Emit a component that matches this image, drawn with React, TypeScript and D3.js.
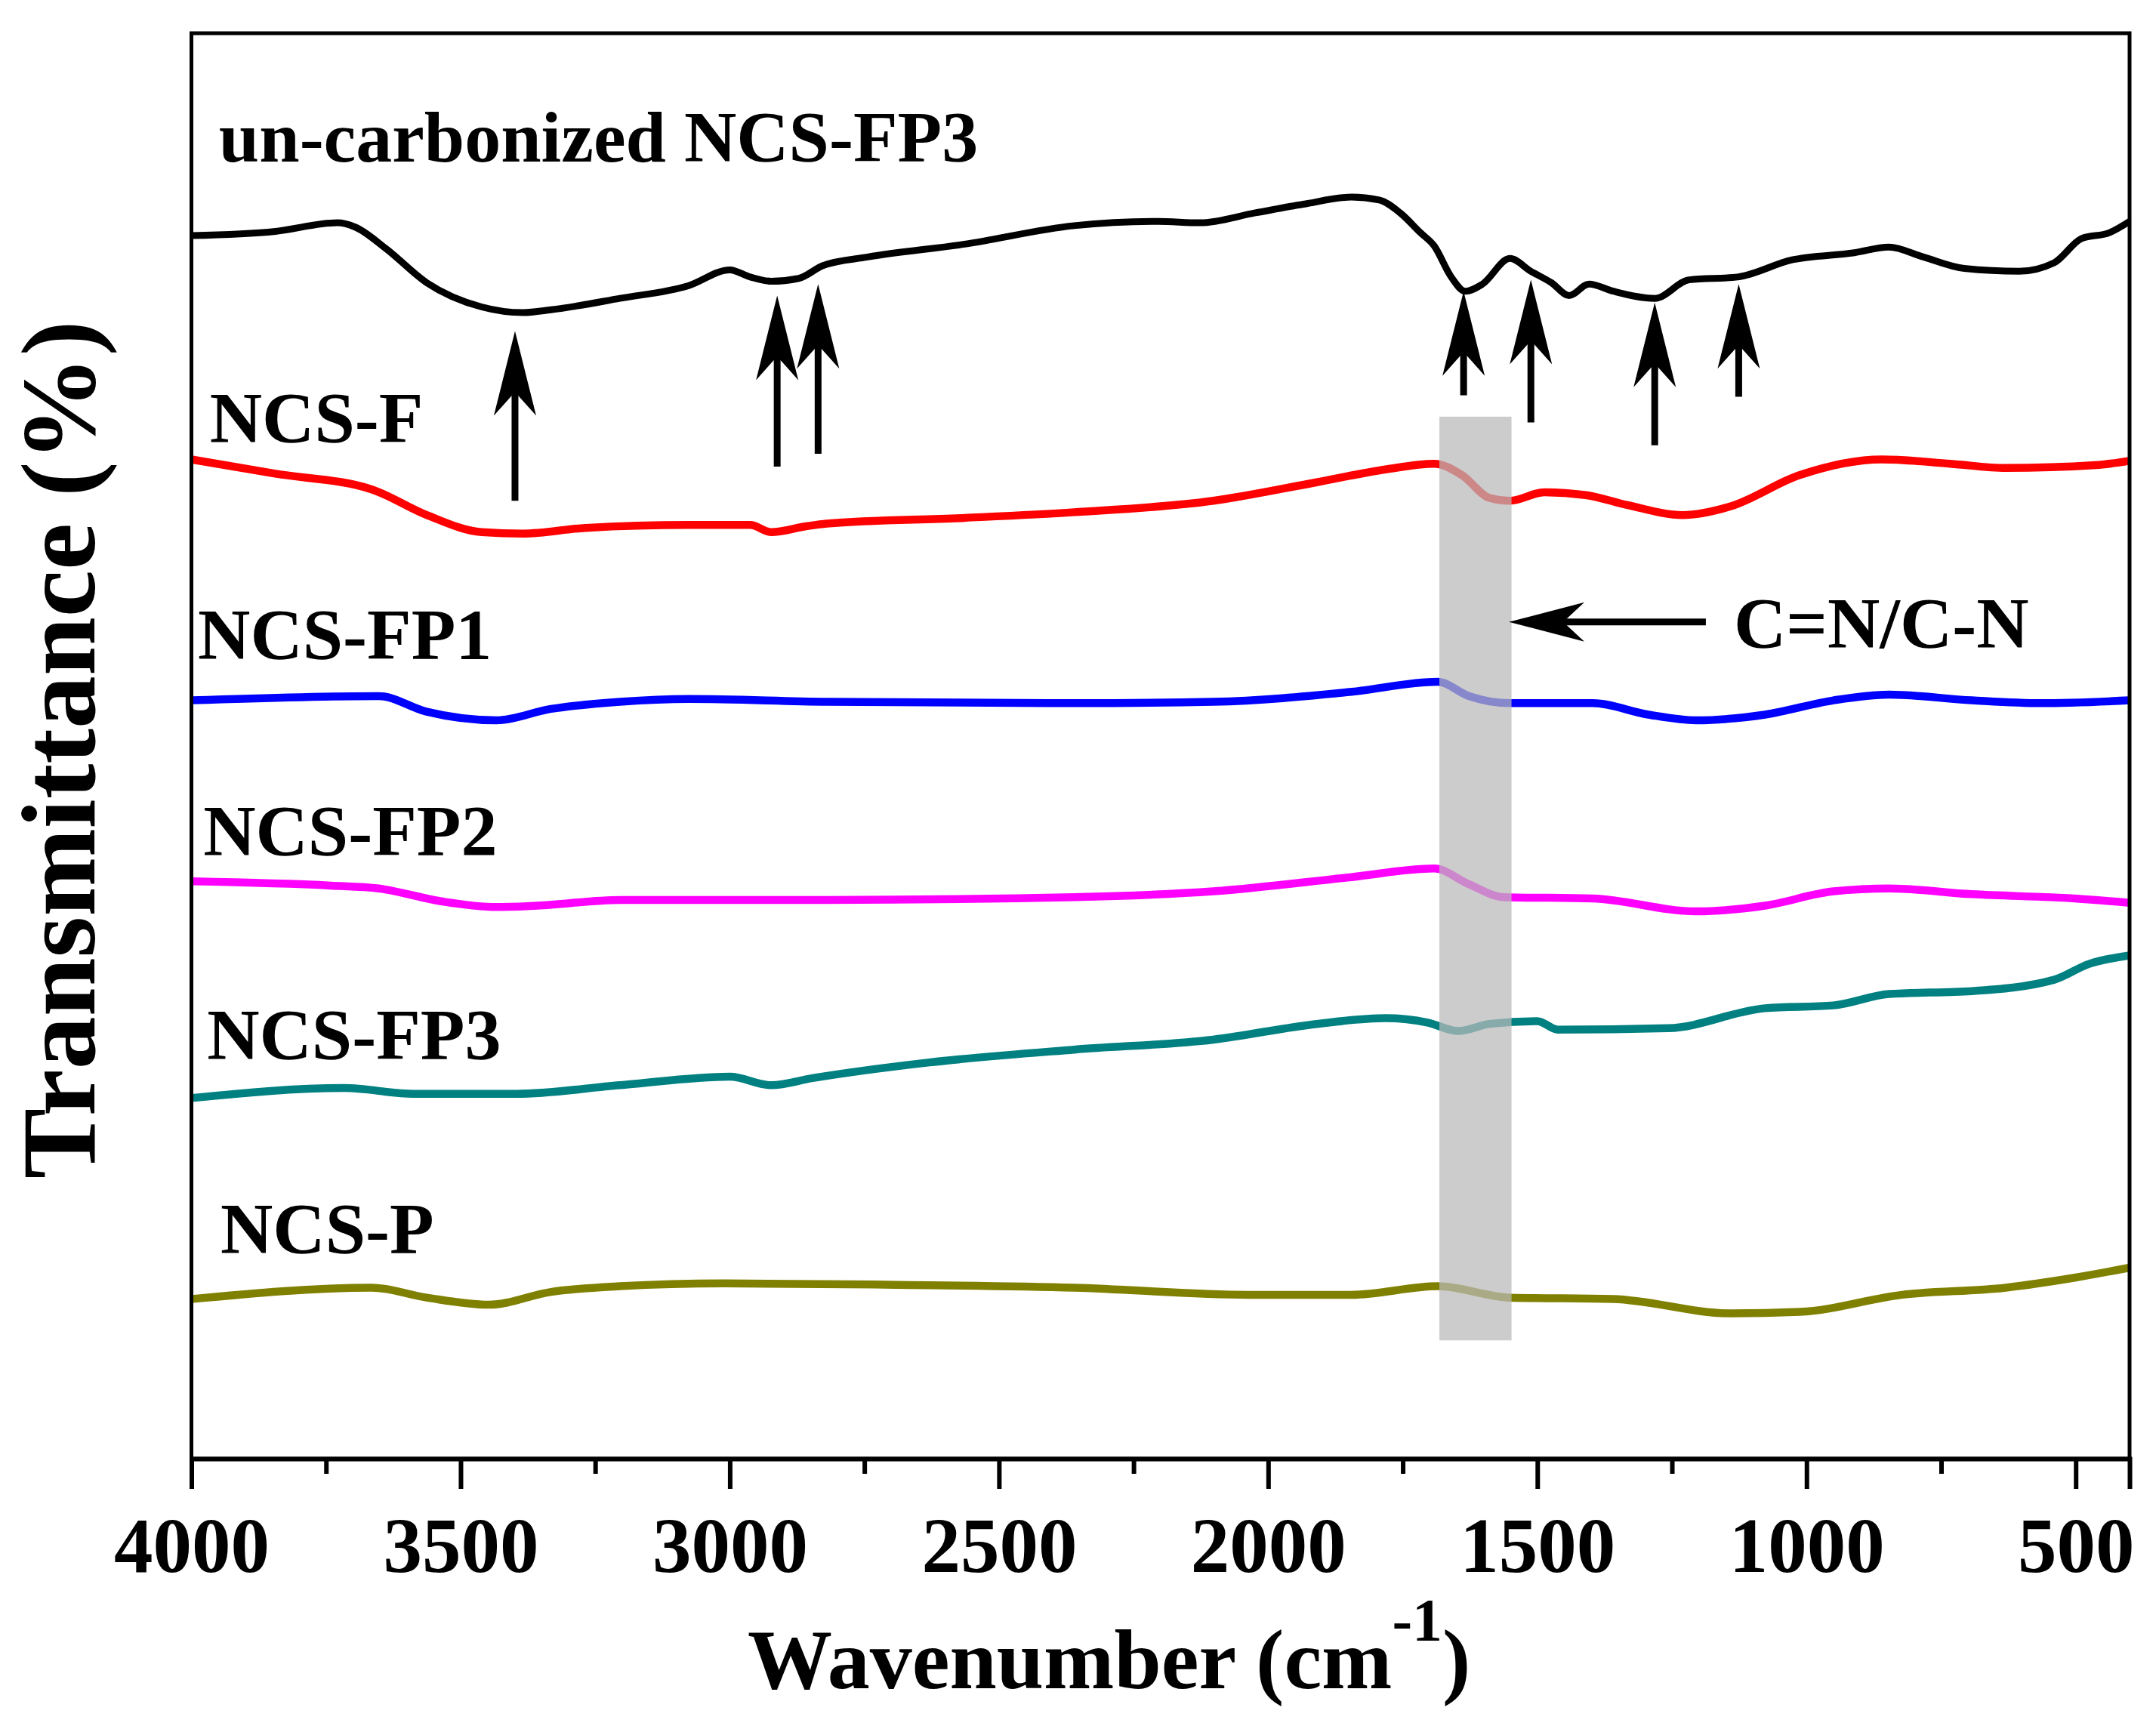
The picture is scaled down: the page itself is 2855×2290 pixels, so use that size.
import React, { useEffect, useRef } from 'react';
import * as d3 from 'd3';

// FTIR spectra, offset vertically (arbitrary units)
const wnUncarb = [4000, 3844, 3729, 3696, 3639, 3563, 3461, 3384, 3332, 3204, 3076, 3000, 2962, 2923, 2872, 2827, 2744, 2564, 2360, 2204, 2127, 2024, 1935, 1845, 1794, 1755, 1717, 1692, 1660, 1634, 1602, 1551, 1512, 1474, 1441, 1404, 1359, 1282, 1218, 1128, 1027, 911, 847, 783, 707, 605, 540, 489, 438, 400];
const tUncarb = [8.58, 8.61, 8.67, 8.64, 8.49, 8.25, 8.08, 8.04, 8.06, 8.14, 8.23, 8.34, 8.29, 8.26, 8.28, 8.37, 8.43, 8.52, 8.65, 8.68, 8.67, 8.74, 8.8, 8.85, 8.83, 8.74, 8.6, 8.51, 8.29, 8.19, 8.24, 8.42, 8.33, 8.25, 8.16, 8.24, 8.19, 8.14, 8.27, 8.29, 8.41, 8.46, 8.5, 8.43, 8.35, 8.33, 8.39, 8.56, 8.6, 8.68];

const wnF = [4000, 3844, 3665, 3563, 3461, 3384, 3268, 3076, 2962, 2923, 2860, 2820, 2564, 2360, 2102, 1910, 1782, 1692, 1640, 1589, 1551, 1487, 1410, 1333, 1230, 1142, 1013, 860, 733, 630, 463, 400];
const tF = [7.01, 6.91, 6.8, 6.62, 6.5, 6.49, 6.53, 6.55, 6.55, 6.5, 6.54, 6.56, 6.6, 6.64, 6.72, 6.85, 6.94, 6.98, 6.9, 6.74, 6.72, 6.78, 6.76, 6.69, 6.62, 6.68, 6.9, 7.01, 6.98, 6.95, 6.97, 7.0];

const wnFP1 = [4000, 3652, 3563, 3434, 3332, 3204, 3076, 2820, 2360, 2102, 1845, 1685, 1627, 1551, 1397, 1294, 1205, 1077, 950, 847, 693, 565, 400];
const tFP1 = [5.32, 5.35, 5.24, 5.18, 5.26, 5.31, 5.33, 5.31, 5.3, 5.31, 5.38, 5.45, 5.35, 5.3, 5.3, 5.22, 5.18, 5.22, 5.32, 5.36, 5.32, 5.3, 5.32];

const wnFP2 = [4000, 3741, 3652, 3536, 3434, 3358, 3204, 2820, 2360, 2102, 1845, 1692, 1627, 1564, 1397, 1205, 1077, 950, 847, 693, 502, 400];
const tFP2 = [4.05, 4.02, 4.0, 3.91, 3.87, 3.88, 3.92, 3.92, 3.94, 3.98, 4.08, 4.14, 4.03, 3.94, 3.93, 3.84, 3.88, 3.98, 4.0, 3.96, 3.93, 3.9];

const wnFP3 = [4000, 3716, 3588, 3396, 3204, 3000, 2923, 2846, 2629, 2360, 2102, 1910, 1782, 1704, 1647, 1589, 1500, 1462, 1257, 1077, 950, 847, 693, 540, 476, 400];
const tFP3 = [2.53, 2.6, 2.56, 2.56, 2.62, 2.68, 2.62, 2.67, 2.78, 2.87, 2.94, 3.05, 3.09, 3.06, 3.0, 3.05, 3.07, 3.01, 3.02, 3.16, 3.18, 3.26, 3.28, 3.36, 3.47, 3.53];

const wnP = [4000, 3665, 3563, 3448, 3332, 3204, 3012, 2692, 2360, 2037, 1845, 1685, 1551, 1359, 1142, 1013, 822, 630, 502, 400];
const tP = [1.12, 1.2, 1.13, 1.08, 1.17, 1.21, 1.23, 1.22, 1.2, 1.15, 1.15, 1.21, 1.13, 1.12, 1.02, 1.03, 1.15, 1.2, 1.27, 1.34];

const seriesNames = ['un-carbonized NCS-FP3', 'NCS-F', 'NCS-FP1', 'NCS-FP2', 'NCS-FP3', 'NCS-P'];
const seriesColors = ['#000000', '#ff0000', '#0000ff', '#ff00ff', '#008080', '#808000'];
// label anchor: wavenumber and baseline level
const labelWn = [3949, 3966, 3988, 3978, 3971, 3946];
const labelT = [9.1, 7.13, 5.61, 4.23, 2.8, 1.44];

// peak arrows on the un-carbonized spectrum: position, tip, tail
const arrowWn = [3399, 2912, 2836, 1637, 1512, 1282, 1126];
const arrowTip = [7.91, 8.16, 8.24, 8.19, 8.27, 8.11, 8.24];
const arrowTail = [6.72, 6.96, 7.05, 7.46, 7.27, 7.11, 7.45];

// highlighted C=N/C-N band
const bandWn = [1682, 1548];
const bandT = [7.31, 0.83];

const majorTicks = [4000, 3500, 3000, 2500, 2000, 1500, 1000, 500];
const minorTicks = [3750, 3250, 2750, 2250, 1750, 1250, 750];

const W = 2855;
const H = 2290;
const box = { left: 253.5, top: 44, right: 2820, bottom: 1932 };
const FONT = '"Times New Roman", "Liberation Serif", serif';

const App: React.FC = () => {
  const ref = useRef<SVGSVGElement>(null);

  useEffect(() => {
    if (!ref.current) return;
    const svg = d3.select(ref.current);
    svg.selectAll('*').remove();

    const x = d3.scaleLinear().domain([4000, 400]).range([box.left, box.right]);
    const y = d3.scaleLinear().domain([0, 10]).range([box.bottom, box.top]);

    const all = [
      [wnUncarb, tUncarb],
      [wnF, tF],
      [wnFP1, tFP1],
      [wnFP2, tFP2],
      [wnFP3, tFP3],
      [wnP, tP],
    ];

    const line = d3
      .line<[number, number]>()
      .x((d) => x(d[0]))
      .y((d) => y(d[1]))
      .curve(d3.curveMonotoneX);

    all.forEach(([wn, t], i) => {
      const pts = wn.map((w, j) => [w, t[j]] as [number, number]);
      svg
        .append('path')
        .attr('d', line(pts)!)
        .attr('fill', 'none')
        .attr('stroke', seriesColors[i])
        .attr('stroke-width', i === 0 ? 9 : 10.5)
        .attr('stroke-linejoin', 'round');
    });

    // gray band over the curves
    svg
      .append('rect')
      .attr('x', x(bandWn[0]))
      .attr('y', y(bandT[0]))
      .attr('width', x(bandWn[1]) - x(bandWn[0]))
      .attr('height', y(bandT[1]) - y(bandT[0]))
      .attr('fill', '#b9b9b9')
      .attr('opacity', 0.73);

    // series labels
    seriesNames.forEach((name, i) => {
      svg
        .append('text')
        .attr('x', x(labelWn[i]))
        .attr('y', y(labelT[i]))
        .attr('font-family', FONT)
        .attr('font-weight', 'bold')
        .attr('font-size', 96)
        .attr('fill', '#000')
        .text(name);
    });

    // notched arrow head pointing toward (tx, ty)
    const head = (tx: number, ty: number, ang: number, L: number, w: number) => {
      const pts = [
        [0, 0],
        [-w, L],
        [0, L * 0.72],
        [w, L],
      ].map(([px, py]) => {
        const c = Math.cos(ang);
        const s = Math.sin(ang);
        return [tx + px * c - py * s, ty + px * s + py * c];
      });
      svg
        .append('path')
        .attr('d', 'M' + pts.map((p) => p.join(',')).join('L') + 'Z')
        .attr('fill', '#000');
    };

    arrowWn.forEach((w, i) => {
      const ax = x(w);
      const ty = y(arrowTip[i]);
      const by = y(arrowTail[i]);
      svg
        .append('line')
        .attr('x1', ax)
        .attr('x2', ax)
        .attr('y1', ty + 60)
        .attr('y2', by)
        .attr('stroke', '#000')
        .attr('stroke-width', 9);
      head(ax, ty, 0, 112, 28);
    });

    // horizontal arrow to the band
    const hy = y(5.87);
    svg
      .append('line')
      .attr('x1', x(1187))
      .attr('x2', x(1553) + 60)
      .attr('y1', hy)
      .attr('y2', hy)
      .attr('stroke', '#000')
      .attr('stroke-width', 9);
    head(x(1553), hy, -Math.PI / 2, 100, 26);

    svg
      .append('text')
      .attr('x', x(1135))
      .attr('y', y(5.69))
      .attr('font-family', FONT)
      .attr('font-weight', 'bold')
      .attr('font-size', 96)
      .text('C=N/C-N');

    // frame
    svg
      .append('rect')
      .attr('x', box.left)
      .attr('y', box.top)
      .attr('width', box.right - box.left)
      .attr('height', box.bottom - box.top)
      .attr('fill', 'none')
      .attr('stroke', '#000')
      .attr('stroke-width', 5);

    // x axis, major and minor ticks
    const gMajor = svg
      .append('g')
      .attr('transform', `translate(0,${box.bottom})`)
      .call(d3.axisBottom(x).tickValues(majorTicks).tickSize(40).tickPadding(37).tickFormat(d3.format('d')));
    gMajor.select('.domain').attr('stroke-width', 6);
    gMajor.selectAll('.tick line').attr('stroke-width', 6);
    gMajor
      .selectAll('.tick text')
      .attr('font-family', FONT)
      .attr('font-weight', 'bold')
      .attr('font-size', 103)
      .attr('fill', '#000');

    const gMinor = svg
      .append('g')
      .attr('transform', `translate(0,${box.bottom})`)
      .call(d3.axisBottom(x).tickValues(minorTicks).tickSize(20).tickFormat(() => ''));
    gMinor.select('.domain').remove();
    gMinor.selectAll('.tick line').attr('stroke-width', 6);

    // axis titles
    const xt = svg
      .append('text')
      .attr('x', 990)
      .attr('y', 2236)
      .attr('font-family', FONT)
      .attr('font-weight', 'bold')
      .attr('font-size', 112);
    xt.append('tspan').text('Wavenumber (cm');
    xt.append('tspan').attr('font-size', 80).attr('dy', -63).text('-1');
    xt.append('tspan').attr('dy', 63).text(')');

    svg
      .append('text')
      .attr('transform', 'translate(125,993) rotate(-90)')
      .attr('text-anchor', 'middle')
      .attr('font-family', FONT)
      .attr('font-weight', 'bold')
      .attr('font-size', 140)
      .text('Transmittance (%)');
  }, []);

  return (
    <svg
      ref={ref}
      width={W}
      height={H}
      style={{ position: 'absolute', left: 0, top: 0, background: '#fff' }}
    />
  );
};

export default App;
